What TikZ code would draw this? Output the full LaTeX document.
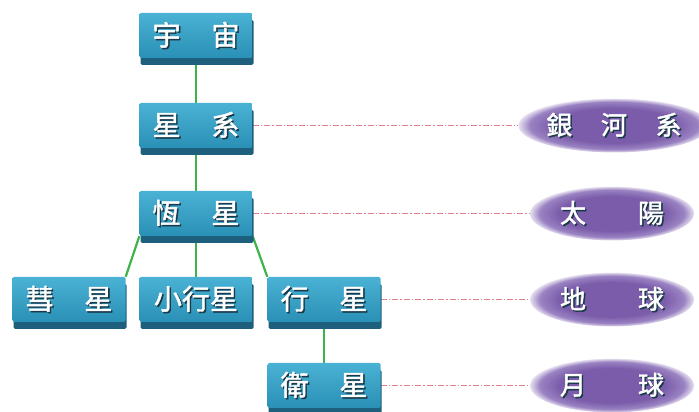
\documentclass[tikz,border=0pt]{standalone}
\usepackage{fontspec}
\newfontfamily\cjk[FakeBold=1.6]{Noto Sans CJK TC}
\usetikzlibrary{shapes.geometric,shadows,backgrounds}
\definecolor{boxtop}{HTML}{4AB2D4}
\definecolor{boxbot}{HTML}{2A90B6}
\definecolor{boxdark}{HTML}{1D5F7C}
\definecolor{txtsh}{HTML}{1A3A4A}
\definecolor{linkgreen}{HTML}{3DB34A}
\definecolor{dashpink}{HTML}{E2808F}
\definecolor{ellc}{HTML}{7A5CAA}
\definecolor{ellm}{HTML}{9A82C2}
\definecolor{ellout}{HTML}{FFFFFF}
\pgfdeclareradialshading{purp}{\pgfpoint{0bp}{0bp}}{color(0bp)=(ellc); color(16bp)=(ellc); color(22bp)=(ellm); color(26bp)=(ellout); color(50bp)=(ellout)}
\newcommand\shd[1]{\makebox[0pt][l]{\hspace{1.5pt}\raisebox{-1.5pt}{\textcolor{txtsh}{#1}}}\textcolor{white}{#1}}
\tikzset{
  box/.style={rectangle, minimum width=113pt, minimum height=45pt, inner sep=0pt,
    top color=boxtop, bottom color=boxbot, rounded corners=1.5pt,
    drop shadow={shadow xshift=1pt, shadow yshift=-7pt, fill=boxdark, opacity=1},
    font=\cjk\fontsize{28}{28}\selectfont},
  orb/.style={ellipse, minimum width=164pt, minimum height=54pt, inner sep=0pt,
    shading=purp, font=\cjk\fontsize{26}{26}\selectfont},
  link/.style={linkgreen, line width=2.2pt},
  dlink/.style={dashpink, line width=1pt, dash pattern=on 6pt off 2pt on 1.5pt off 2pt}
}
\begin{document}
\begin{tikzpicture}[x=1pt,y=1pt]
\useasboundingbox (0,0) rectangle (699,412);
\node[box] (yz) at (196,376.5) {\shd{宇}\hspace{1.1em}\shd{宙}};
\node[box] (xx) at (196,286.5) {\shd{星}\hspace{1.1em}\shd{系}};
\node[box] (hx) at (196,198.5) {\shd{恆}\hspace{1.1em}\shd{星}};
\node[box] (hui) at (69,112.5) {\shd{彗}\hspace{1.1em}\shd{星}};
\node[box] (xxx) at (196,112.5) {\shd{小行星}};
\node[box] (xing) at (324,112.5) {\shd{行}\hspace{1.1em}\shd{星}};
\node[box] (wx) at (324,26.5) {\shd{衛}\hspace{1.1em}\shd{星}};
\node[orb] (yhx) at (614,286.5) {\shd{銀}\hspace{1.1em}\shd{河}\hspace{1.1em}\shd{系}};
\node[orb] (ty) at (612,198.5) {\shd{太}\hspace{2em}\shd{陽}};
\node[orb] (dq) at (612,112.5) {\shd{地}\hspace{2em}\shd{球}};
\node[orb] (yq) at (612,26.5) {\shd{月}\hspace{2em}\shd{球}};
\begin{pgfonlayer}{background}
\draw[link] (yz.south) -- (xx.north);
\draw[link] (xx.south) -- (hx.north);
\draw[link] (hx.south) -- (xxx.north);
\draw[link] (hx.south west) -- (hui.north east);
\draw[link] (hx.south east) -- (xing.north west);
\draw[link] (xing.south) -- (wx.north);
\draw[dlink] (xx.east) -- (yhx.west);
\draw[dlink] (hx.east) -- (ty.west);
\draw[dlink] (xing.east) -- (dq.west);
\draw[dlink] (wx.east) -- (yq.west);
\end{pgfonlayer}
\end{tikzpicture}
\end{document}
